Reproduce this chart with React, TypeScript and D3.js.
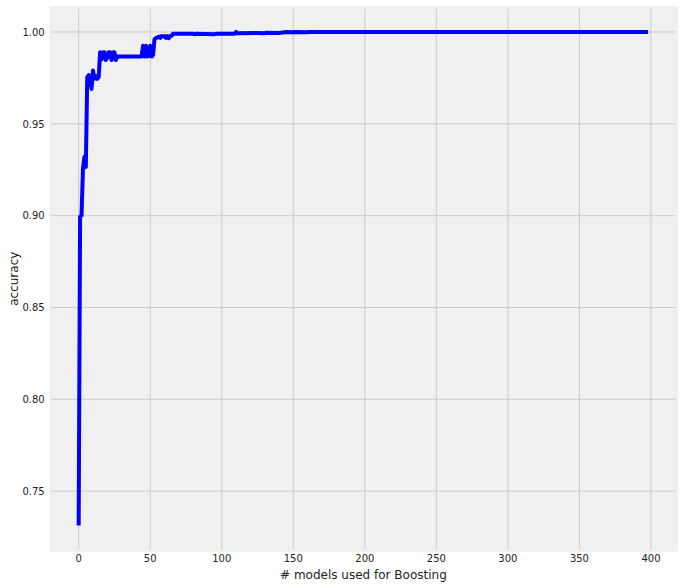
import React from "react";
import * as d3 from "d3";

// Number of boosting models (change points of the curve; runs between listed points are constant)
const iterations = [
  0, 1, 2, 3, 4, 5, 6, 7, 8, 9, 10, 11, 12, 13, 14,
  15, 16, 17, 18, 19, 20, 21, 22, 23, 24, 25, 26, 27,
  44, 45, 46, 47, 48, 49, 50, 51, 52, 53, 54, 55, 56, 57, 58, 59, 60, 61, 62, 63, 64, 65, 66,
  80, 81, 82, 95, 96, 109, 110, 111, 125, 130, 131, 140, 145, 150, 151, 160, 161, 170, 398,
];
const accuracy = [
  0.7313, 0.8995, 0.9, 0.9255, 0.932, 0.9265, 0.9755, 0.9765, 0.975, 0.969, 0.979, 0.9745, 0.976, 0.9745, 0.9755,
  0.989, 0.985, 0.989, 0.989, 0.9847, 0.986, 0.989, 0.989, 0.9847, 0.989, 0.989, 0.9847, 0.9866,
  0.9866, 0.9925, 0.9866, 0.9925, 0.9866, 0.987, 0.9925, 0.9866, 0.9875, 0.996, 0.9968, 0.997, 0.9975, 0.9968, 0.9978, 0.9975, 0.9978, 0.9968, 0.9978, 0.9966, 0.9978, 0.998, 0.999,
  0.999, 0.9987, 0.999, 0.9988, 0.999, 0.999, 1.0, 0.9993, 0.9995, 0.9993, 0.9996, 0.9995, 1.0, 0.9998, 1.0, 0.9998, 1.0, 1.0, 1.0,
];
const xTicks = [0, 50, 100, 150, 200, 250, 300, 350, 400];
const yTicks = [0.75, 0.8, 0.85, 0.9, 0.95, 1.0];
const xLabel = "# models used for Boosting";
const yLabel = "accuracy";

const W = 683;
const H = 588;
const axL = 50.2, axR = 676.6, axT = 7.3, axB = 550.2;
const FONT = "'DejaVu Sans', sans-serif";

function padDomain(vals: number[]): [number, number] {
  const lo = d3.min(vals) as number;
  const hi = d3.max(vals) as number;
  const m = (hi - lo) * 0.05;
  return [lo - m, hi + m];
}

export default function App() {
  const x = d3.scaleLinear().domain(padDomain(iterations)).range([axL, axR]);
  const y = d3.scaleLinear().domain(padDomain(accuracy)).range([axB, axT]);
  const pts: [number, number][] = iterations.map((v, i) => [v, accuracy[i]]);
  const line = d3
    .line<[number, number]>()
    .x((d) => x(d[0]))
    .y((d) => y(d[1]));

  return (
    <svg
      width={W}
      height={H}
      style={{ position: "absolute", left: 0, top: 0, background: "#ffffff" }}
      fontFamily={FONT}
    >
      <rect x={axL - 1.2} y={axT - 1.3} width={axR - axL + 2.4} height={axB - axT + 2.6} fill="#f0f0f0" />
      {xTicks.map((t) => (
        <line key={"gx" + t} x1={x(t)} x2={x(t)} y1={axT} y2={axB} stroke="#cbcbcb" strokeWidth={1} />
      ))}
      {yTicks.map((t) => (
        <line key={"gy" + t} x1={axL} x2={axR} y1={y(t)} y2={y(t)} stroke="#cbcbcb" strokeWidth={1} />
      ))}
      <rect x={axL} y={axT} width={axR - axL} height={axB - axT} fill="none" stroke="#f0f0f0" strokeWidth={2.6} />
      <path d={line(pts) || ""} fill="none" stroke="#0000ff" strokeWidth={4} strokeLinejoin="round" strokeLinecap="butt" />
      {xTicks.map((t) => (
        <text key={"tx" + t} x={x(t)} y={562.3} fontSize={10} textAnchor="middle" fill="#222">
          {t}
        </text>
      ))}
      {yTicks.map((t) => (
        <text key={"ty" + t} x={44.7} y={y(t) + 3.7} fontSize={10} textAnchor="end" fill="#222">
          {t.toFixed(2)}
        </text>
      ))}
      <text x={(axL + axR) / 2} y={578.5} fontSize={12} textAnchor="middle" fill="#222">
        {xLabel}
      </text>
      <text
        transform={`translate(18,${(axT + axB) / 2}) rotate(-90)`}
        fontSize={12}
        textAnchor="middle"
        fill="#222"
      >
        {yLabel}
      </text>
    </svg>
  );
}
